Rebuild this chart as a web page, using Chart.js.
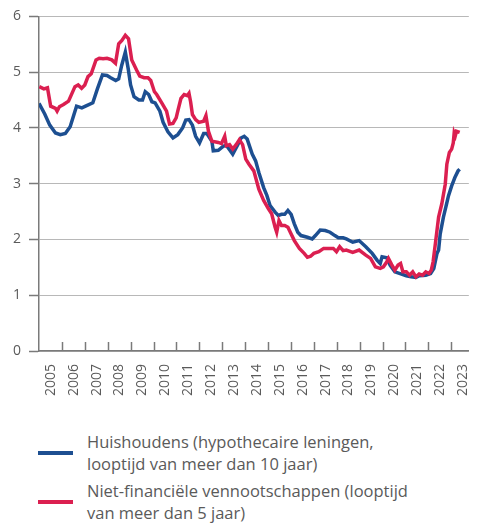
<!DOCTYPE html>
<html>
<head>
<meta charset="utf-8">
<script src="https://cdn.jsdelivr.net/npm/chart.js@4"></script>
<style>
    body { margin: 0; background: #fff; font-family: 'Open Sans', sans-serif; }
    #wrap { position: relative; width: 481px; height: 525px; overflow: hidden; }
    #chartBox { position: absolute; left: 0; top: 0; width: 481px; height: 400px; }
    #legend { position: absolute; left: 38px; top: 431px; color: #5a5a5a; font-size: 16.5px; line-height: 22px; }
    .item { display: flex; align-items: center; margin-bottom: 5px; }
    .swatch { width: 35px; height: 4px; margin-right: 14px; flex: none; }
</style>
</head>
<body>
<div id="wrap">
    <div id="chartBox"><canvas id="grafico"></canvas></div>
    <div id="legend"></div>
</div>
<script>
const seriesNames = [
    'Huishoudens (hypothecaire leningen,<br>looptijd van meer dan 10 jaar)',
    'Niet-financiële vennootschappen (looptijd<br>van meer dan 5 jaar)'
];
const seriesColors = ['#1d4f91', '#db1f50'];

const yearTicks = [2005, 2006, 2007, 2008, 2009, 2010, 2011, 2012, 2013, 2014,
    2015, 2016, 2017, 2018, 2019, 2020, 2021, 2022, 2023];
const yTicks = [0, 1, 2, 3, 4, 5, 6];

const hhYears = [2005.00, 2005.25, 2005.47, 2005.72, 2005.93, 2006.15, 2006.36, 2006.64, 2006.87, 2007.08,
    2007.35, 2007.55, 2007.77, 2007.97, 2008.13, 2008.35, 2008.48, 2008.61, 2008.77, 2008.90,
    2009.00, 2009.15, 2009.36, 2009.52, 2009.64, 2009.79, 2009.93, 2010.07, 2010.28, 2010.42,
    2010.63, 2010.85, 2011.06, 2011.27, 2011.41, 2011.55, 2011.70, 2011.84, 2012.01, 2012.19,
    2012.33, 2012.55, 2012.61, 2012.83, 2013.04, 2013.18, 2013.32, 2013.46, 2013.68, 2013.82,
    2013.96, 2014.09, 2014.31, 2014.46, 2014.60, 2014.81, 2014.95, 2015.09, 2015.31, 2015.45,
    2015.59, 2015.73, 2015.87, 2016.01, 2016.15, 2016.30, 2016.44, 2016.72, 2016.93, 2017.07,
    2017.28, 2017.50, 2017.71, 2017.92, 2018.07, 2018.28, 2018.42, 2018.70, 2018.98, 2019.27,
    2019.55, 2019.76, 2019.90, 2019.98, 2020.19, 2020.33, 2020.54, 2020.83, 2021.04, 2021.25,
    2021.46, 2021.60, 2021.89, 2022.10, 2022.24, 2022.38, 2022.45, 2022.52, 2022.66, 2022.80,
    2022.88, 2023.02, 2023.16, 2023.30, 2023.37];
const hhRates = [4.44, 4.25, 4.05, 3.91, 3.88, 3.90, 4.02, 4.39, 4.36, 4.40,
    4.45, 4.70, 4.95, 4.94, 4.90, 4.85, 4.88, 5.12, 5.36, 5.05,
    4.77, 4.56, 4.50, 4.50, 4.65, 4.60, 4.47, 4.45, 4.30, 4.10,
    3.93, 3.82, 3.88, 4.00, 4.14, 4.15, 4.05, 3.85, 3.73, 3.90,
    3.90, 3.76, 3.59, 3.60, 3.67, 3.69, 3.61, 3.53, 3.70, 3.82,
    3.85, 3.80, 3.53, 3.41, 3.20, 2.93, 2.79, 2.61, 2.49, 2.43,
    2.45, 2.45, 2.52, 2.45, 2.28, 2.13, 2.07, 2.04, 2.01, 2.07,
    2.17, 2.16, 2.13, 2.07, 2.03, 2.03, 2.01, 1.95, 1.98, 1.87,
    1.75, 1.63, 1.57, 1.69, 1.67, 1.54, 1.42, 1.38, 1.35, 1.33,
    1.32, 1.35, 1.36, 1.39, 1.48, 1.75, 1.81, 2.10, 2.40, 2.64,
    2.78, 2.96, 3.11, 3.23, 3.26];

const nfcYears = [2005.01, 2005.21, 2005.37, 2005.51, 2005.72, 2005.79, 2005.89, 2006.07, 2006.29, 2006.57,
    2006.71, 2006.86, 2007.00, 2007.14, 2007.28, 2007.49, 2007.63, 2007.80, 2007.97, 2008.18,
    2008.34, 2008.48, 2008.62, 2008.77, 2008.91, 2009.05, 2009.26, 2009.40, 2009.59, 2009.76,
    2009.88, 2010.04, 2010.14, 2010.36, 2010.57, 2010.70, 2010.85, 2010.99, 2011.06, 2011.20,
    2011.34, 2011.48, 2011.55, 2011.62, 2011.70, 2011.84, 2011.98, 2012.19, 2012.29, 2012.40,
    2012.55, 2012.83, 2012.97, 2013.11, 2013.18, 2013.32, 2013.46, 2013.61, 2013.75, 2013.89,
    2014.03, 2014.17, 2014.38, 2014.60, 2014.81, 2015.02, 2015.16, 2015.31, 2015.38, 2015.48,
    2015.59, 2015.73, 2015.87, 2016.01, 2016.15, 2016.37, 2016.58, 2016.72, 2016.86, 2017.00,
    2017.22, 2017.43, 2017.64, 2017.85, 2017.99, 2018.13, 2018.28, 2018.42, 2018.70, 2018.98,
    2019.27, 2019.48, 2019.69, 2019.90, 2020.04, 2020.19, 2020.26, 2020.40, 2020.54, 2020.68,
    2020.79, 2020.89, 2021.04, 2021.18, 2021.32, 2021.46, 2021.60, 2021.75, 2021.89, 2022.03,
    2022.13, 2022.21, 2022.31, 2022.45, 2022.59, 2022.74, 2022.81, 2022.92, 2023.02, 2023.09,
    2023.13, 2023.18, 2023.23, 2023.37];
const nfcRates = [4.74, 4.70, 4.72, 4.39, 4.35, 4.30, 4.38, 4.42, 4.48, 4.74,
    4.77, 4.71, 4.77, 4.92, 4.97, 5.22, 5.25, 5.24, 5.25, 5.22,
    5.16, 5.51, 5.57, 5.66, 5.60, 5.22, 5.04, 4.93, 4.90, 4.90,
    4.85, 4.65, 4.60, 4.45, 4.30, 4.07, 4.08, 4.18, 4.30, 4.53,
    4.60, 4.58, 4.62, 4.47, 4.24, 4.15, 4.10, 4.12, 4.22, 3.94,
    3.76, 3.74, 3.72, 3.85, 3.68, 3.70, 3.62, 3.70, 3.79, 3.70,
    3.44, 3.35, 3.23, 2.90, 2.70, 2.55, 2.46, 2.22, 2.13, 2.34,
    2.25, 2.25, 2.22, 2.10, 1.98, 1.84, 1.75, 1.68, 1.70, 1.75,
    1.78, 1.84, 1.84, 1.84, 1.78, 1.87, 1.80, 1.81, 1.77, 1.81,
    1.72, 1.66, 1.51, 1.48, 1.51, 1.60, 1.66, 1.55, 1.45, 1.54,
    1.57, 1.42, 1.42, 1.36, 1.42, 1.33, 1.38, 1.36, 1.42, 1.39,
    1.45, 1.60, 1.93, 2.40, 2.64, 2.99, 3.35, 3.56, 3.62, 3.73,
    3.91, 3.86, 3.94, 3.92];

function toPoints(xs, ys) {
    return xs.map((x, i) => ({ x: x, y: ys[i] }));
}

// legenda als html, want de tekst loopt over twee regels
const legendElem = document.getElementById('legend');
seriesNames.forEach(function(name, i) {
    const item = document.createElement('div');
    item.className = 'item';
    item.innerHTML = '<span class="swatch" style="background:' + seriesColors[i] + '"></span><span>' + name + '</span>';
    legendElem.appendChild(item);
});

// korte streepjes die vanaf de x-as naar binnen wijzen
const innerTicks = {
    id: 'innerTicks',
    afterDatasetsDraw(chart) {
        const ctx = chart.ctx;
        const xScale = chart.scales.x;
        const bottom = chart.chartArea.bottom;
        ctx.save();
        ctx.strokeStyle = '#7a7a7a';
        ctx.lineWidth = 1.5;
        yearTicks.slice(1).forEach(function(year) {
            const px = Math.round(xScale.getPixelForValue(year)) + 0.5;
            ctx.beginPath();
            ctx.moveTo(px, bottom);
            ctx.lineTo(px, bottom - 9);
            ctx.stroke();
        });
        ctx.restore();
    }
};

const ctx = document.getElementById('grafico').getContext('2d');
new Chart(ctx, {
    type: 'line',
    data: {
        datasets: [
            {
                label: 'Huishoudens',
                data: toPoints(hhYears, hhRates),
                borderColor: seriesColors[0],
                borderWidth: 3.5,
                pointRadius: 0,
                tension: 0,
                order: 1
            },
            {
                label: 'Niet-financiële vennootschappen',
                data: toPoints(nfcYears, nfcRates),
                borderColor: seriesColors[1],
                borderWidth: 3.5,
                pointRadius: 0,
                tension: 0,
                order: 0
            }
        ]
    },
    options: {
        responsive: true,
        maintainAspectRatio: false,
        animation: false,
        layout: { padding: { top: 8, right: 0, left: 0, bottom: 0 } },
        plugins: {
            legend: { display: false },
            tooltip: { enabled: false }
        },
        scales: {
            x: {
                type: 'linear',
                min: 2005,
                max: 2023.77,
                afterBuildTicks: function(scale) {
                    scale.ticks = yearTicks.map(v => ({ value: v }));
                },
                afterFit: function(scale) {
                    scale.height = 49;
                },
                grid: { display: false, drawTicks: false },
                border: { display: true, color: '#7a7a7a', width: 1.5 },
                ticks: {
                    autoSkip: false,
                    minRotation: 90,
                    maxRotation: 90,
                    padding: 13,
                    labelOffset: 11.8,
                    color: '#5a5a5a',
                    font: { family: 'Open Sans', size: 14 },
                    callback: function(value) { return String(value); }
                }
            },
            y: {
                min: 0,
                max: 6,
                afterBuildTicks: function(scale) {
                    scale.ticks = yTicks.map(v => ({ value: v }));
                },
                afterFit: function(scale) {
                    scale.width = 39;
                },
                grid: {
                    color: '#b8b8b8',
                    lineWidth: 1,
                    borderDash: [1, 2],
                    tickLength: 10,
                    tickColor: '#7a7a7a',
                    tickWidth: 1.5,
                    tickBorderDash: []
                },
                border: { display: true, color: '#7a7a7a', width: 1.5 },
                ticks: {
                    padding: 8,
                    color: '#5a5a5a',
                    font: { family: 'Open Sans', size: 14 }
                }
            }
        }
    },
    plugins: [innerTicks]
});
</script>
</body>
</html>
